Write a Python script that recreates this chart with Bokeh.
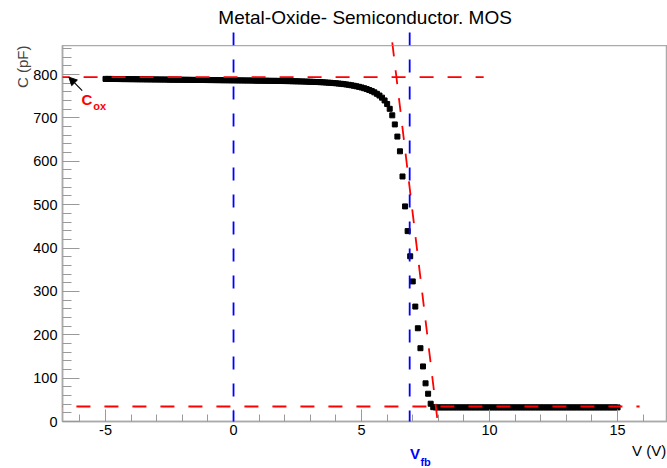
from bokeh.plotting import figure
from bokeh.layouts import column
from bokeh.models import Range1d, SingleIntervalTicker, Label, Arrow, NormalHead, Title
from bokeh.embed import file_html
from bokeh.resources import INLINE

# ---------------- data ----------------
title_text = "Metal-Oxide- Semiconductor. MOS"
x_title = "V (V)"
y_title = "C (pF)"
x_tick_labels = {-5: "-5", 0: "0", 5: "5", 10: "10", 15: "15"}

v_start, v_step, n_points = -5.0, 0.1, 201
voltage = [round(v_start + v_step * i, 1) for i in range(n_points)]

capacitance = [
    790.0, 789.9, 789.9, 789.8, 789.7, 789.7, 789.6, 789.5, 789.5, 789.4,   # -5.0
    789.3, 789.3, 789.2, 789.1, 789.1, 789.0, 788.9, 788.9, 788.8, 788.7,   # -4.0
    788.7, 788.6, 788.5, 788.5, 788.4, 788.3, 788.3, 788.2, 788.1, 788.1,   # -3.0
    788.0, 787.9, 787.9, 787.8, 787.7, 787.7, 787.6, 787.5, 787.5, 787.4,   # -2.0
    787.3, 787.3, 787.2, 787.1, 787.1, 787.0, 786.9, 786.9, 786.8, 786.7,   # -1.0
    786.7, 786.6, 786.5, 786.5, 786.4, 786.3, 786.3, 786.2, 786.1, 786.0,   #  0.0
    786.0, 785.9, 785.8, 785.7, 785.6, 785.5, 785.5, 785.4, 785.3, 785.1,   #  1.0
    785.0, 784.9, 784.8, 784.6, 784.5, 784.3, 784.2, 784.0, 783.8, 783.6,   #  2.0
    783.4, 783.2, 782.9, 782.7, 782.4, 782.1, 781.7, 781.3, 780.9, 780.4,   #  3.0
    779.9, 779.3, 778.7, 778.0, 777.2, 776.3, 775.3, 774.2, 773.0, 771.7,   #  4.0
    770.2, 768.5, 766.6, 764.4, 761.9, 759.0, 755.6, 751.6, 746.7, 740.3,   #  5.0
    732.0, 721.0, 706.0, 685.0, 657.0, 623.0, 565.0, 496.0, 439.0, 381.0,   #  6.0
    323.0, 265.0, 215.0, 169.0, 127.0, 88.0, 64.0, 41.0, 33.0, 32.5,        #  7.0
    32.5, 32.5, 32.5, 32.5, 32.5, 32.5, 32.5, 32.5, 32.5, 32.5,             #  8.0
    32.5, 32.5, 32.5, 32.5, 32.5, 32.5, 32.5, 32.5, 32.5, 32.5,             #  9.0
    32.5, 32.5, 32.5, 32.5, 32.5, 32.5, 32.5, 32.5, 32.5, 32.5,             # 10.0
    32.5, 32.5, 32.5, 32.5, 32.5, 32.5, 32.5, 32.5, 32.5, 32.5,             # 11.0
    32.5, 32.5, 32.5, 32.5, 32.5, 32.5, 32.5, 32.5, 32.5, 32.5,             # 12.0
    32.5, 32.5, 32.5, 32.5, 32.5, 32.5, 32.5, 32.5, 32.5, 32.5,             # 13.0
    32.5, 32.5, 32.5, 32.5, 32.5, 32.5, 32.5, 32.5, 32.5, 32.5,             # 14.0
    32.5,                                                                   # 15.0
]

# reference lines (data units)
cox_level = 794.0
cox_x = [-6.95, 9.77]
cmin_level = 34.6
cmin_x = [-7.23, 15.86]
tangent_x = [6.2, 8.05]
tangent_y = [874.0, -38.5]
v_zero = 0.0
v_fb = 6.88
vline_y = [897.0, -25.0]

x_range = (-6.68, 16.95)
y_range = (0.0, 867.0)

# ---------------- layout geometry ----------------
FONT = "Liberation Sans"
W = 667
LEFT = 62
TOP_H = 45          # strip above the frame (title)
FRAME_H = 376
MAIN_BOTTOM = 20    # tick labels
BOT_H = 468 - TOP_H - FRAME_H - MAIN_BOTTOM
PX_PER_UNIT = FRAME_H / (y_range[1] - y_range[0])

top_yr = (y_range[1], y_range[1] + TOP_H / PX_PER_UNIT)
bot_yr = (y_range[0] - (MAIN_BOTTOM + BOT_H) / PX_PER_UNIT, y_range[0] - MAIN_BOTTOM / PX_PER_UNIT)


def strip(h, yr):
    f = figure(width=W, height=h, x_range=Range1d(*x_range), y_range=Range1d(*yr),
               output_backend="svg", toolbar_location=None, title=None,
               x_axis_location=None, y_axis_location=None,
               min_border_left=LEFT, min_border_right=0, min_border_top=0, min_border_bottom=0)
    f.grid.visible = False
    f.outline_line_color = None
    f.background_fill_color = "white"
    f.border_fill_color = "white"
    return f


top = strip(TOP_H, top_yr)
bottom = strip(BOT_H, bot_yr)

p = figure(width=W, height=FRAME_H + MAIN_BOTTOM, x_range=Range1d(*x_range), y_range=Range1d(*y_range),
           output_backend="svg", toolbar_location=None, title=None,
           min_border_left=LEFT, min_border_right=0, min_border_top=0, min_border_bottom=MAIN_BOTTOM)
p.grid.visible = False
p.background_fill_color = "white"
p.border_fill_color = "white"
p.outline_line_color = "#aaaaaa"
p.outline_line_width = 1.5

p.scatter(voltage, capacitance, marker="square", size=5, color="black")

for ax in (p.xaxis[0], p.yaxis[0]):
    ax.axis_line_color = "#aaaaaa"
    ax.axis_line_width = 1.5
    ax.major_tick_line_color = "#999999"
    ax.minor_tick_line_color = "#999999"
    ax.major_tick_out = 0
    ax.minor_tick_out = 0
    ax.major_label_text_font = FONT
    ax.major_label_text_font_size = "14.5px"
    ax.major_label_text_color = "black"
p.xaxis.major_label_standoff = 3
p.yaxis.major_label_standoff = 5
p.xaxis.ticker = SingleIntervalTicker(interval=5, num_minor_ticks=5)
p.yaxis.ticker = SingleIntervalTicker(interval=100, num_minor_ticks=5)
p.xaxis.major_label_overrides = x_tick_labels
p.xaxis.major_tick_in = 12
p.xaxis.minor_tick_in = 7
p.yaxis.major_tick_in = 17
p.yaxis.minor_tick_in = 9

p.add_layout(Title(text=y_title, align="right", text_font=FONT, text_font_size="15px",
                   text_font_style="normal", standoff=0), "left")


def seg(fig, x0, y0, x1, y1, color, dash):
    fig.add_layout(Arrow(start=None, end=None, x_start=x0, y_start=y0, x_end=x1, y_end=y1,
                         line_color=color, line_width=1.8, line_dash=dash))


for fig in (top, p, bottom):
    seg(fig, cox_x[0], cox_level, cox_x[1], cox_level, "#ff0000", "14 14")
    seg(fig, cmin_x[0], cmin_level, cmin_x[1], cmin_level, "#ff0000", "14 14")
    seg(fig, tangent_x[0], tangent_y[0], tangent_x[1], tangent_y[1], "#ff0000", "14 14")
    seg(fig, v_zero, vline_y[0], v_zero, vline_y[1], "#0000ff", "13 14")
    seg(fig, v_fb, vline_y[0], v_fb, vline_y[1], "#0000ff", "13 14")

# Cox arrow
p.add_layout(Arrow(end=NormalHead(size=8, fill_color="black", line_color="black"),
                   x_start=-5.91, y_start=763.0, x_end=-6.43, y_end=794.0,
                   line_color="black", line_width=1.2))


def lab(fig, x, y, text, size, color, align="left", bold=False):
    fig.add_layout(Label(x=x, y=y, text=text, text_font=FONT, text_font_size=size,
                         text_color=color, text_align=align, text_baseline="alphabetic",
                         text_font_style="bold" if bold else "normal"))


lab(p, -5.94, 742.5, "C", "15px", "#ff0000", bold=True)
lab(p, -5.48, 726.5, "ox", "11px", "#ff0000", bold=True)
lab(bottom, 6.89, -74.5, "V", "15px", "#0000ff", bold=True)
lab(bottom, 7.30, -94.5, "fb", "11px", "#0000ff", bold=True)
lab(bottom, 16.9, -68.0, x_title, "15px", "black", align="right")
lab(top, 5.14, 931.5, title_text, "19px", "black", align="center")

layout = column(top, p, bottom, spacing=0)
open("out.html", "w").write(file_html(layout, INLINE))
